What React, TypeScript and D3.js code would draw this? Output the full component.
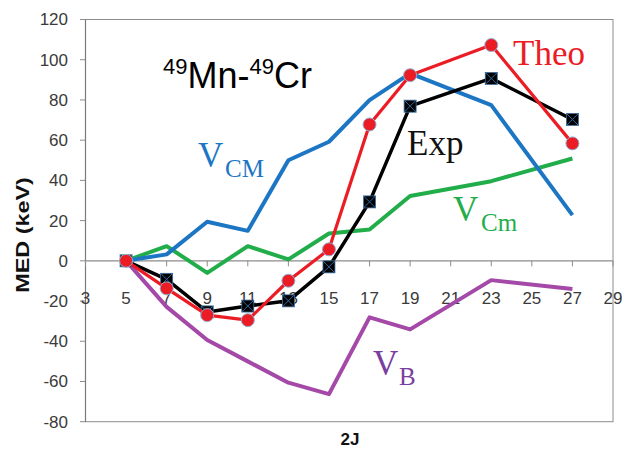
import React from "react";
import * as d3 from "d3";

// Mirror energy differences (keV) versus 2J for the A=49 pair
const twoJ = [5, 7, 9, 11, 13, 15, 17, 19, 23, 27];
const expValues = [0, -9.2, -25.4, -22.5, -19.9, -3, 29.3, 76.9, 90.7, 70.3];
const theoValues = [0, -13.7, -27, -29.5, -9.9, 5.7, 67.8, 92.3, 107.3, 58.4];
const vcmValues = [0, 3.2, 19.4, 14.9, 50, 59.2, 79.9, 93.2, 77.4, 22.7];
const vcmMinorValues = [0, 7.3, -6, 7.3, 0.7, 13.6, 15.6, 32.2, 39.6, 50.9];
const vbValues = [0, -22.9, -39.4, -50, -60.6, -66.3, -28.1, -34.1, -9.6, -14];

const xTicks = [3, 5, 7, 9, 11, 13, 15, 17, 19, 21, 23, 25, 27, 29];
const yTicks = [-80, -60, -40, -20, 0, 20, 40, 60, 80, 100, 120];

const W = 622;
const H = 449;
const left = 85.5;
const right = 613;
const top = 19.5;
const bottom = 421.7;

const COLORS = {
  blue: "#1c76c3",
  green: "#22ad4b",
  purple: "#a449a8",
  red: "#ec1c24",
  black: "#000000",
  axis: "#8c8c8c",
};

export default function App() {
  const x = d3.scaleLinear().domain([3, 29]).range([left, right]);
  const y = d3.scaleLinear().domain([-80, 120]).range([bottom, top]);

  const line = (vals: number[]) =>
    d3
      .line<number>()
      .x((_, i) => x(twoJ[i]))
      .y((v) => y(v))(vals) as string;

  const sans = "'Liberation Sans', Arial, sans-serif";
  const serif = "'Liberation Serif', 'Times New Roman', serif";
  const y0 = y(0);
  const sq = 6;

  return (
    <svg
      width={W}
      height={H}
      style={{ position: "absolute", left: 0, top: 0, background: "#fff" }}
    >
      {/* plot frame */}
      <rect
        x={left}
        y={top}
        width={right - left}
        height={bottom - top}
        fill="none"
        stroke={COLORS.axis}
        strokeWidth={1}
      />
      <line x1={left} x2={left} y1={top} y2={bottom} stroke="#7a7a7a" strokeWidth={1.2} />

      {/* y axis ticks and labels */}
      {yTicks.map((t) => (
        <g key={"y" + t}>
          <line x1={left - 5.5} x2={left} y1={y(t)} y2={y(t)} stroke={COLORS.axis} />
          <text
            x={68}
            y={y(t)}
            dy="0.35em"
            textAnchor="end"
            fontFamily={sans}
            fontSize={17}
            fill="#3a3a3a"
          >
            {t}
          </text>
        </g>
      ))}

      {/* x axis through zero */}
      <line x1={left} x2={right} y1={y0} y2={y0} stroke={COLORS.axis} strokeWidth={1.2} />
      {xTicks.map((t) => (
        <g key={"x" + t}>
          <line x1={x(t)} x2={x(t)} y1={y0} y2={y0 + 5.5} stroke={COLORS.axis} />
          <text
            x={x(t)}
            y={304}
            textAnchor="middle"
            fontFamily={sans}
            fontSize={17}
            fill="#3a3a3a"
          >
            {t}
          </text>
        </g>
      ))}

      {/* axis titles */}
      <text
        x={350}
        y={445}
        textAnchor="middle"
        fontFamily={sans}
        fontWeight="bold"
        fontSize={17}
        fill="#111"
      >
        2J
      </text>
      <text
        transform="translate(29,235) rotate(-90) scale(1.3,1)"
        textAnchor="middle"
        fontFamily={sans}
        fontWeight="bold"
        fontSize={18}
        fill="#111"
      >
        MED (keV)
      </text>

      {/* model curves */}
      <path d={line(vcmMinorValues)} fill="none" stroke={COLORS.green} strokeWidth={4} strokeLinejoin="round" />
      <path d={line(vcmValues)} fill="none" stroke={COLORS.blue} strokeWidth={4} strokeLinejoin="round" />
      <path d={line(vbValues)} fill="none" stroke={COLORS.purple} strokeWidth={4} strokeLinejoin="round" />

      {/* experiment */}
      <path d={line(expValues)} fill="none" stroke={COLORS.black} strokeWidth={3.5} strokeLinejoin="round" />
      {expValues.map((v, i) => {
        const cx = x(twoJ[i]);
        const cy = y(v);
        return (
          <g key={"e" + i}>
            <rect x={cx - sq} y={cy - sq} width={sq * 2} height={sq * 2} fill="#000" stroke="#3d6f9e" strokeWidth={0.8} />
            <path
              d={`M${cx - sq},${cy - sq}L${cx + sq},${cy + sq}M${cx - sq},${cy + sq}L${cx + sq},${cy - sq}`}
              stroke="#2f6aa8"
              strokeWidth={1}
            />
          </g>
        );
      })}

      {/* theory */}
      <path d={line(theoValues)} fill="none" stroke={COLORS.red} strokeWidth={3.2} strokeLinejoin="round" />
      {theoValues.map((v, i) => (
        <circle key={"t" + i} cx={x(twoJ[i])} cy={y(v)} r={6.5} fill={COLORS.red} stroke="#8fb0d4" strokeWidth={1} />
      ))}

      {/* annotations */}
      <text x={163} y={88} fontFamily={sans} fill="#000">
        <tspan fontSize={22} dy={-14}>49</tspan>
        <tspan fontSize={36} dy={14}>Mn-</tspan>
        <tspan fontSize={22} dy={-14}>49</tspan>
        <tspan fontSize={36} dy={14}>Cr</tspan>
      </text>
      <text x={513} y={65} fontFamily={serif} fontSize={35} fill={COLORS.red}>
        Theo
      </text>
      <text x={407} y={155} fontFamily={serif} fontSize={35} fill="#111">
        Exp
      </text>
      <text fontFamily={serif} fill={COLORS.blue}>
        <tspan x={198} y={167} fontSize={35}>V</tspan>
        <tspan x={225} y={177} fontSize={25}>CM</tspan>
      </text>
      <text fontFamily={serif} fill={COLORS.green}>
        <tspan x={453} y={221} fontSize={35}>V</tspan>
        <tspan x={481} y={231} fontSize={25}>Cm</tspan>
      </text>
      <text fontFamily={serif} fill="#7a3ea0">
        <tspan x={373} y={375} fontSize={35}>V</tspan>
        <tspan x={399} y={385} fontSize={25}>B</tspan>
      </text>
    </svg>
  );
}
